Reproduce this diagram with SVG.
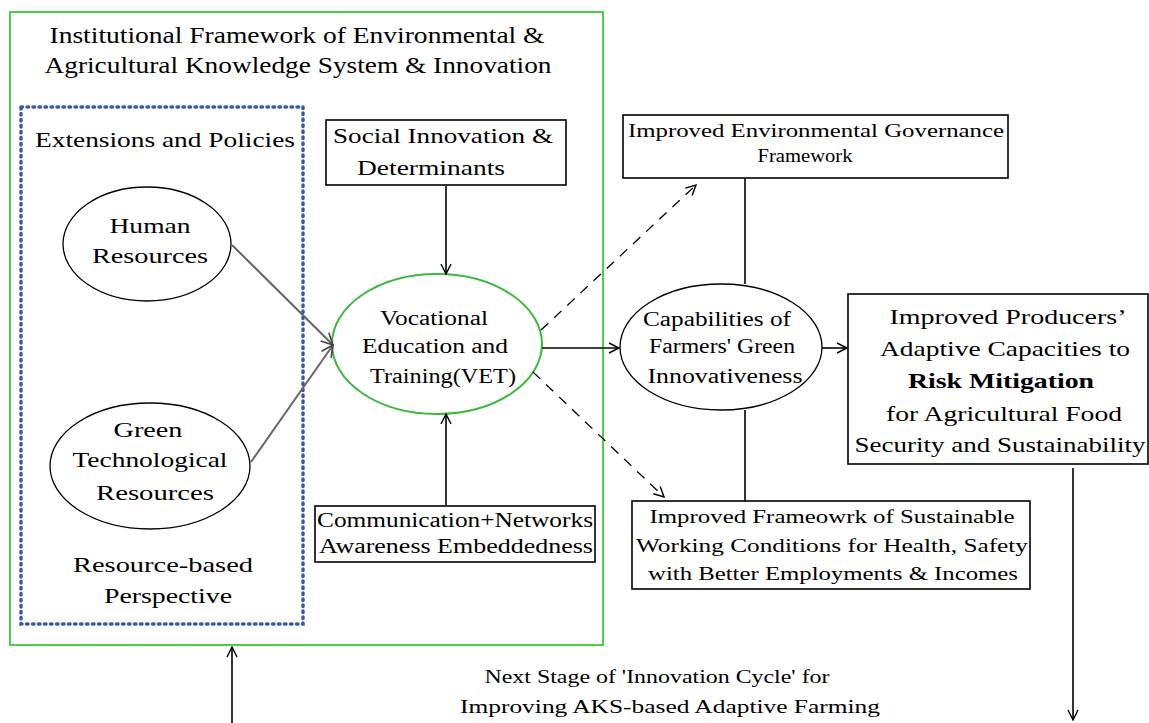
<svg xmlns="http://www.w3.org/2000/svg" width="1149" height="723" viewBox="0 0 1149 723">
<style>
.t{font-family:"Liberation Serif","Times New Roman",serif;fill:#000;text-anchor:middle}
.box{fill:#fff;stroke:#000;stroke-width:1.6}
.ell{fill:#fff;stroke:#000;stroke-width:1.3}
.ln{stroke:#000;stroke-width:1.6;fill:none}
.gr{stroke:#666;stroke-width:2;fill:none}
.dash{stroke:#000;stroke-width:1.3;fill:none;stroke-dasharray:10 8}
</style>
<defs>
<marker id="ah" viewBox="0 0 12 12" refX="11" refY="6" markerWidth="12" markerHeight="12" markerUnits="userSpaceOnUse" orient="auto">
<path d="M1,1 L11,6 L1,11" fill="none" stroke="#000" stroke-width="1.4"/>
</marker>
<marker id="ahg" viewBox="0 0 12 12" refX="11" refY="6" markerWidth="14" markerHeight="14" markerUnits="userSpaceOnUse" orient="auto">
<path d="M1,1 L11,6 L1,11" fill="none" stroke="#444" stroke-width="1.4"/>
</marker>
</defs>
<rect width="1149" height="723" fill="#fff"/>

<g id="framework">
<rect x="10" y="12" width="593" height="633" fill="none" stroke="#4cd04c" stroke-width="2"/>
<text class="t" x="297" y="43" font-size="24" textLength="495" lengthAdjust="spacingAndGlyphs">Institutional Framework of Environmental &amp;</text>
<text class="t" x="298" y="73" font-size="24" textLength="507" lengthAdjust="spacingAndGlyphs">Agricultural Knowledge System &amp; Innovation</text>
</g>

<g id="resource-perspective">
<rect x="21" y="107" width="282" height="517" fill="none" stroke="#3a5aa8" stroke-width="3.5" stroke-dasharray="1.5 4.5" stroke-linecap="round"/>
<text class="t" x="165" y="147" font-size="22" textLength="260" lengthAdjust="spacingAndGlyphs">Extensions and Policies</text>
<text class="t" x="163" y="572" font-size="22" textLength="180" lengthAdjust="spacingAndGlyphs">Resource-based</text>
<text class="t" x="168" y="603" font-size="22" textLength="128" lengthAdjust="spacingAndGlyphs">Perspective</text>
</g>

<g id="human-resources">
<ellipse class="ell" cx="147" cy="244" rx="84" ry="57"/>
<text class="t" x="150" y="233" font-size="22" textLength="81" lengthAdjust="spacingAndGlyphs">Human</text>
<text class="t" x="150" y="263" font-size="22" textLength="116" lengthAdjust="spacingAndGlyphs">Resources</text>
</g>

<g id="green-tech">
<ellipse class="ell" cx="150" cy="466" rx="100" ry="63"/>
<text class="t" x="148" y="437" font-size="22" textLength="69" lengthAdjust="spacingAndGlyphs">Green</text>
<text class="t" x="150" y="467" font-size="22" textLength="155" lengthAdjust="spacingAndGlyphs">Technological</text>
<text class="t" x="155" y="500" font-size="22" textLength="118" lengthAdjust="spacingAndGlyphs">Resources</text>
</g>

<g id="social-innovation">
<rect class="box" x="326" y="120" width="240" height="65"/>
<text class="t" x="443" y="143" font-size="22" textLength="220" lengthAdjust="spacingAndGlyphs">Social Innovation &amp;</text>
<text class="t" x="431" y="175" font-size="22" textLength="148" lengthAdjust="spacingAndGlyphs">Determinants</text>
</g>

<g id="vet">
<ellipse cx="437" cy="344" rx="105" ry="70" fill="#fff" stroke="#3cb83c" stroke-width="2"/>
<text class="t" x="434" y="325" font-size="20" textLength="108" lengthAdjust="spacingAndGlyphs">Vocational</text>
<text class="t" x="435" y="353" font-size="20" textLength="146" lengthAdjust="spacingAndGlyphs">Education and</text>
<text class="t" x="443" y="383" font-size="20" textLength="146" lengthAdjust="spacingAndGlyphs">Training(VET)</text>
</g>

<g id="communication">
<rect class="box" x="315" y="506" width="280" height="56"/>
<text class="t" x="455" y="527" font-size="20" textLength="276" lengthAdjust="spacingAndGlyphs">Communication+Networks</text>
<text class="t" x="456" y="553" font-size="20" textLength="274" lengthAdjust="spacingAndGlyphs">Awareness Embeddedness</text>
</g>

<g id="governance">
<rect class="box" x="623" y="115" width="385" height="63"/>
<text class="t" x="816" y="137" font-size="19" textLength="376" lengthAdjust="spacingAndGlyphs">Improved Environmental Governance</text>
<text class="t" x="805" y="162" font-size="19" textLength="95" lengthAdjust="spacingAndGlyphs">Framework</text>
</g>

<g id="capabilities">
<ellipse class="ell" cx="721" cy="347" rx="101" ry="63"/>
<text class="t" x="717" y="326" font-size="20" textLength="148" lengthAdjust="spacingAndGlyphs">Capabilities of</text>
<text class="t" x="722" y="353" font-size="20" textLength="146" lengthAdjust="spacingAndGlyphs">Farmers' Green</text>
<text class="t" x="725" y="383" font-size="20" textLength="155" lengthAdjust="spacingAndGlyphs">Innovativeness</text>
</g>

<g id="producers">
<rect class="box" x="848" y="294" width="300" height="170"/>
<text class="t" x="1008" y="324" font-size="22" textLength="237" lengthAdjust="spacingAndGlyphs">Improved Producers’</text>
<text class="t" x="1005" y="356" font-size="22" textLength="250" lengthAdjust="spacingAndGlyphs">Adaptive Capacities to</text>
<text class="t" x="1001" y="388" font-size="22" font-weight="bold" textLength="186" lengthAdjust="spacingAndGlyphs">Risk Mitigation</text>
<text class="t" x="1004" y="421" font-size="22" textLength="236" lengthAdjust="spacingAndGlyphs">for Agricultural Food</text>
<text class="t" x="1000" y="452" font-size="22" textLength="291" lengthAdjust="spacingAndGlyphs">Security and Sustainability</text>
</g>

<g id="working-conditions">
<rect class="box" x="632" y="501" width="398" height="88"/>
<text class="t" x="832" y="523" font-size="19" textLength="365" lengthAdjust="spacingAndGlyphs">Improved Frameowrk of Sustainable</text>
<text class="t" x="832" y="552" font-size="19" textLength="392" lengthAdjust="spacingAndGlyphs">Working Conditions for Health, Safety</text>
<text class="t" x="833" y="580" font-size="19" textLength="370" lengthAdjust="spacingAndGlyphs">with Better Employments &amp; Incomes</text>
</g>

<g id="next-stage">
<text class="t" x="657" y="683" font-size="19" textLength="345" lengthAdjust="spacingAndGlyphs">Next Stage of 'Innovation Cycle' for</text>
<text class="t" x="670" y="713" font-size="19" textLength="420" lengthAdjust="spacingAndGlyphs">Improving AKS-based Adaptive Farming</text>
</g>

<g id="connectors">
<line class="gr" x1="232" y1="245" x2="333" y2="345" marker-end="url(#ahg)"/>
<line class="gr" x1="251" y1="462" x2="333" y2="345" marker-end="url(#ahg)"/>
<line class="ln" x1="446" y1="186" x2="446" y2="274" marker-end="url(#ah)"/>
<line class="ln" x1="446" y1="505" x2="446" y2="414" marker-end="url(#ah)"/>
<line class="ln" x1="542" y1="348" x2="619" y2="348" marker-end="url(#ah)"/>
<line class="dash" x1="541" y1="330" x2="696" y2="185" marker-end="url(#ah)"/>
<line class="dash" x1="533" y1="372" x2="664" y2="497" marker-end="url(#ah)"/>
<line class="ln" x1="745" y1="178" x2="745" y2="284"/>
<line class="ln" x1="745" y1="410" x2="745" y2="501"/>
<line class="ln" x1="822" y1="348" x2="847" y2="348" marker-end="url(#ah)"/>
<line class="ln" x1="1073" y1="468" x2="1073" y2="720" marker-end="url(#ah)"/>
<line class="ln" x1="232" y1="723" x2="232" y2="647" marker-end="url(#ah)"/>
</g>
</svg>
